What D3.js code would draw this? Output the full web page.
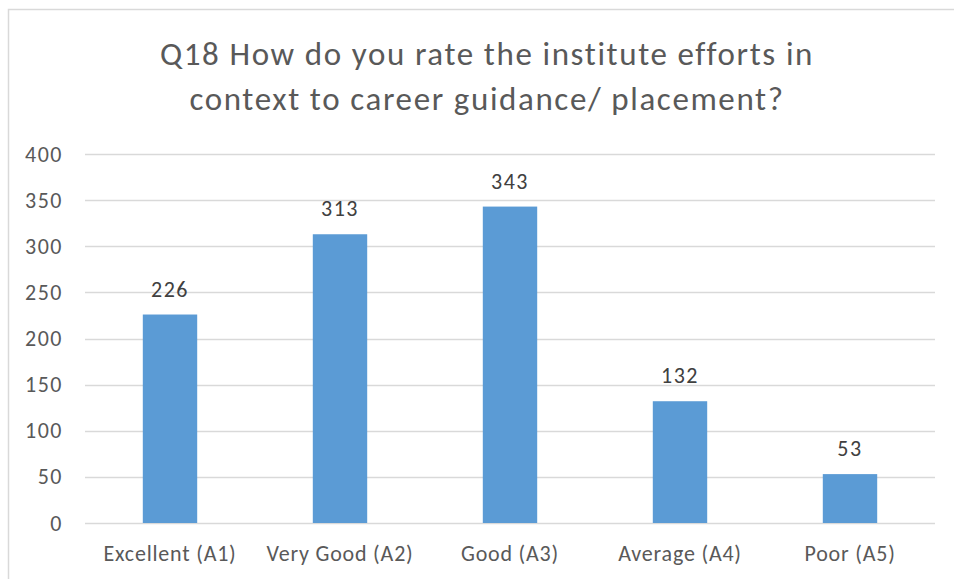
<!DOCTYPE html>
<html>
<head>
<meta charset="utf-8">
<script src="https://cdn.jsdelivr.net/npm/d3@7"></script>
<style>
  body { margin: 0; background: #fff; }
  svg { display: block; }
  text { font-family: Calibri, Carlito, Lato, "Open Sans", sans-serif; }
</style>
</head>
<body>
<div id="chart"></div>
<script>
var categories = ["Excellent (A1)", "Very Good (A2)", "Good (A3)", "Average (A4)", "Poor (A5)"];
var counts = [226, 313, 343, 132, 53];
var yTicks = [0, 50, 100, 150, 200, 250, 300, 350, 400];
var titleLines = ["Q18 How do you rate the institute efforts in", "context to career guidance/ placement?"];

var width = 954, height = 579;
var margin = {top: 154, right: 19, bottom: 56, left: 85};
var plotW = width - margin.left - margin.right,
    plotH = height - margin.top - margin.bottom;

var svg = d3.select("#chart").append("svg")
    .attr("width", width)
    .attr("height", height);

// chart frame
svg.append("rect")
    .attr("x", 8.5).attr("y", 9.5)
    .attr("width", width + 10).attr("height", height + 10)
    .attr("fill", "none")
    .attr("stroke", "#d9d9d9")
    .attr("stroke-width", 1.5);

svg.append("text")
    .attr("text-anchor", "middle")
    .attr("fill", "#595959")
    .style("font-size", "33px")
    .style("letter-spacing", "1.6px")
  .selectAll("tspan")
  .data(titleLines)
  .enter().append("tspan")
    .attr("x", 487)
    .attr("y", function(d, i) { return 65 + i * 45; })
    .text(function(d) { return d; });

var g = svg.append("g")
    .attr("transform", "translate(" + margin.left + "," + margin.top + ")");

var x = d3.scaleBand()
    .domain(categories)
    .range([0, plotW])
    .paddingInner(0.68)
    .paddingOuter(0.34);

var y = d3.scaleLinear()
    .domain([0, 400])
    .range([plotH, 0]);

// gridlines
g.append("g")
  .selectAll("line")
  .data(yTicks)
  .enter().append("line")
    .attr("x1", 0).attr("x2", plotW)
    .attr("y1", function(d) { return Math.round(y(d)) + 0.5; })
    .attr("y2", function(d) { return Math.round(y(d)) + 0.5; })
    .attr("stroke", "#d9d9d9")
    .attr("stroke-width", 1.3);

var yAxis = g.append("g")
    .call(d3.axisLeft(y).tickValues(yTicks).tickSize(0).tickPadding(22));
yAxis.select(".domain").remove();
yAxis.selectAll("text")
    .attr("fill", "#595959")
    .style("font-size", "22px")
    .style("letter-spacing", "1.5px");

var xAxis = g.append("g")
    .attr("transform", "translate(0," + plotH + ")")
    .call(d3.axisBottom(x).tickSize(0).tickPadding(22));
xAxis.select(".domain").remove();
xAxis.selectAll("text")
    .attr("fill", "#595959")
    .style("font-size", "22px")
    .style("letter-spacing", "0.8px");

var data = categories.map(function(c, i) { return {name: c, value: counts[i]}; });

g.selectAll(".bar")
  .data(data)
  .enter().append("rect")
    .attr("class", "bar")
    .attr("x", function(d) { return x(d.name); })
    .attr("width", x.bandwidth())
    .attr("y", function(d) { return y(d.value); })
    .attr("height", function(d) { return plotH - y(d.value); })
    .attr("fill", "#5b9bd5");

g.selectAll(".label")
  .data(data)
  .enter().append("text")
    .attr("class", "label")
    .attr("text-anchor", "middle")
    .attr("x", function(d) { return x(d.name) + x.bandwidth() / 2; })
    .attr("y", function(d) { return y(d.value) - 18; })
    .attr("fill", "#404040")
    .style("font-size", "22px")
    .style("letter-spacing", "1.5px")
    .text(function(d) { return d.value; });
</script>
</body>
</html>
